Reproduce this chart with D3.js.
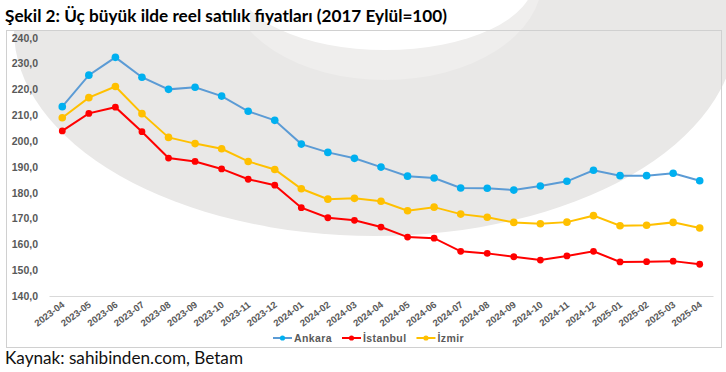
<!DOCTYPE html>
<meta charset="utf-8">
<title>Şekil 2</title>
<script src="https://d3js.org/d3.v7.min.js"></script>
<style>
  body { margin: 0; background: #fff; }
</style>
<body>
<script>

// data
var months = ["2023-04","2023-05","2023-06","2023-07","2023-08","2023-09","2023-10","2023-11","2023-12",
              "2024-01","2024-02","2024-03","2024-04","2024-05","2024-06","2024-07","2024-08","2024-09",
              "2024-10","2024-11","2024-12","2025-01","2025-02","2025-03","2025-04"];
var ankara   = [213.3,225.5,232.4,224.7,220.0,220.8,217.4,211.5,208.0,198.8,195.6,193.3,189.9,186.4,185.7,
                181.8,181.7,181.0,182.6,184.4,188.7,186.6,186.6,187.5,184.6];
var istanbul = [203.9,210.7,213.1,203.6,193.4,192.1,189.2,185.2,182.9,174.2,170.3,169.3,166.7,162.8,162.4,
                157.3,156.5,155.2,153.9,155.5,157.3,153.2,153.3,153.5,152.3];
var izmir    = [209.0,216.8,221.1,210.6,201.4,199.0,197.0,192.1,189.0,181.5,177.5,177.8,176.7,173.0,174.4,
                171.7,170.5,168.5,168.0,168.6,171.1,167.2,167.4,168.5,166.3];
var yTicks = [140,150,160,170,180,190,200,210,220,230,240];

var series = [
  { name: "Ankara",   values: ankara,   line: "#5b9bd5", dot: "#00b0f0", r: 3.8 },
  { name: "İstanbul", values: istanbul, line: "#ff0000", dot: "#ff0000", r: 3.4 },
  { name: "İzmir",    values: izmir,    line: "#ffc000", dot: "#ffc000", r: 3.8 }
];

var w = 726, h = 372;
var axisFont = "'Liberation Sans', Arial, sans-serif";

var svg = d3.select("body").append("svg")
    .attr("width", w)
    .attr("height", h);

svg.append("rect").attr("width", w).attr("height", h).attr("fill", "#fff");

// faint grey ring behind the chart
var defs = svg.append("defs");
var clip = defs.append("clipPath").attr("id", "wm");
clip.append("rect").attr("x", 6).attr("y", 30).attr("width", 720).attr("height", 318);
clip.append("rect").attr("x", 250).attr("y", 0).attr("width", 476).attr("height", 31);

var wm = svg.append("g").attr("clip-path", "url(#wm)");
wm.append("ellipse").attr("cx", 375).attr("cy", 30).attr("rx", 361).attr("ry", 206).attr("fill", "#e9e8e7");
wm.append("ellipse").attr("cx", 385).attr("cy", -20).attr("rx", 157).attr("ry", 100).attr("fill", "#efeeed");
wm.append("ellipse").attr("cx", 385).attr("cy", -20).attr("rx", 149).attr("ry", 70).attr("fill", "#fff");

// frame
svg.append("rect")
    .attr("x", 6.5).attr("y", 30.5)
    .attr("width", 715).attr("height", 317)
    .attr("fill", "none")
    .attr("stroke", "#d0d0d0");

var x = d3.scaleBand().domain(months).range([49, 713]);
var y = d3.scaleLinear().domain([140, 240]).range([296, 37.7]);
var cx = function(i) { return x(months[i]) + x.bandwidth() / 2; };

// y axis labels
var yAxis = svg.append("g")
    .attr("transform", "translate(41,0)")
    .call(d3.axisLeft(y).tickValues(yTicks).tickSize(0).tickPadding(3)
      .tickFormat(function(d) { return d.toFixed(1).replace(".", ","); }));
yAxis.select(".domain").remove();
yAxis.selectAll("text")
    .attr("font-size", 10.5).attr("font-weight", "bold").attr("fill", "#595959")
    .attr("font-family", axisFont);

// x axis
var xAxis = svg.append("g")
    .attr("transform", "translate(0,296)")
    .call(d3.axisBottom(x).tickSize(0));
xAxis.select(".domain").attr("stroke", "#d9d9d9");
xAxis.selectAll("text")
    .attr("x", 0).attr("y", 0).attr("dy", 0)
    .attr("transform", "translate(3,10) rotate(-37)")
    .attr("text-anchor", "end")
    .attr("font-size", 9.5).attr("font-weight", "bold").attr("fill", "#595959")
    .attr("font-family", axisFont);

// lines and markers
var line = d3.line()
    .x(function(d, i) { return cx(i); })
    .y(function(d) { return y(d); });

series.forEach(function(s) {
  svg.append("path")
      .datum(s.values)
      .attr("d", line)
      .attr("fill", "none")
      .attr("stroke", s.line)
      .attr("stroke-width", 2);
  svg.append("g").selectAll("circle")
      .data(s.values)
      .enter().append("circle")
      .attr("cx", function(d, i) { return cx(i); })
      .attr("cy", function(d) { return y(d); })
      .attr("r", s.r)
      .attr("fill", s.dot);
});

// legend
var lx = 273, ly = 338;
series.forEach(function(s) {
  var g = svg.append("g").attr("transform", "translate(" + lx + "," + ly + ")");
  g.append("line").attr("x1", 0).attr("x2", 19).attr("stroke", s.line).attr("stroke-width", 2);
  g.append("circle").attr("cx", 9.5).attr("r", 2.6).attr("fill", s.dot);
  var t = g.append("text")
      .attr("x", 21).attr("y", 4)
      .attr("font-family", axisFont)
      .attr("font-size", 10.5).attr("font-weight", "bold").attr("fill", "#595959")
      .attr("letter-spacing", 0.4)
      .text(s.name);
  lx += 21 + t.node().getComputedTextLength() + 10;
});

// title and source
svg.append("text")
    .attr("x", 5).attr("y", 22)
    .attr("font-family", "Lato, sans-serif")
    .attr("font-weight", "bold").attr("font-size", 17)
    .attr("fill", "#000")
    .attr("textLength", 442).attr("lengthAdjust", "spacingAndGlyphs")
    .text("Şekil 2: Üç büyük ilde reel satılık fiyatları (2017 Eylül=100)");

svg.append("text")
    .attr("x", 5).attr("y", 364)
    .attr("font-family", "Lato, sans-serif")
    .attr("font-size", 17.5)
    .attr("fill", "#111")
    .attr("textLength", 238).attr("lengthAdjust", "spacingAndGlyphs")
    .text("Kaynak: sahibinden.com, Betam");

</script>
</body>
